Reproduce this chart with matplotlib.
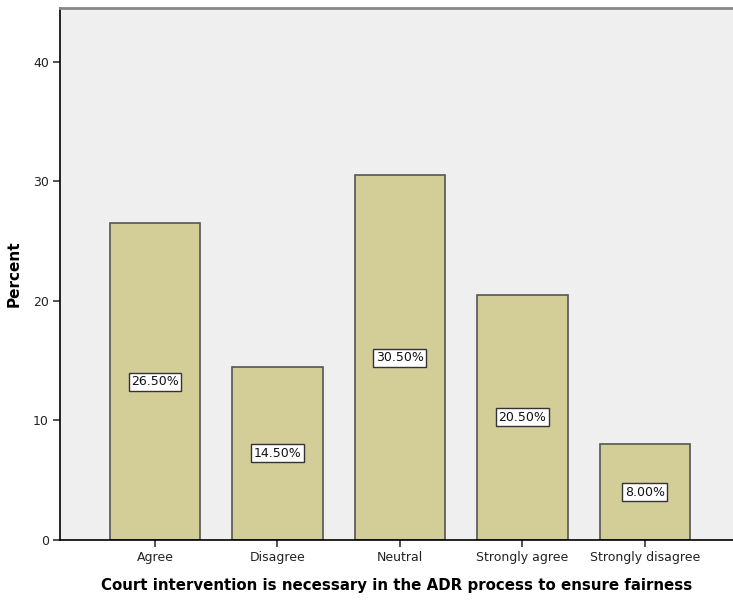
import matplotlib.pyplot as plt

categories = ['Agree', 'Disagree', 'Neutral', 'Strongly agree', 'Strongly disagree']
percents = [26.5, 14.5, 30.5, 20.5, 8.0]
y_ticks = [0, 10, 20, 30, 40]

fig = plt.figure(figsize=(7.33, 6.08), dpi=100)
ax = fig.add_axes([60 / 733, 68 / 608, 673 / 733, 532 / 608])
ax.set_facecolor('#EFEFEF')

x = list(range(len(categories)))
ax.bar(x, percents, width=0.74, color='#D3CE98', edgecolor='#555555', linewidth=1.2, zorder=2)

# value labels sit at half the bar height
for xi, val in zip(x, percents):
    ax.text(xi, val / 2, f'{val:.2f}%', ha='center', va='center', fontsize=9, color='#111111',
            bbox=dict(boxstyle='square,pad=0.2', facecolor='white', edgecolor='#333333', linewidth=1),
            zorder=3)

ax.set_xlim(-0.776, 4.72)
ax.set_ylim(0, 44.5)
ax.set_xticks(x)
ax.set_xticklabels(categories, fontsize=9, color='#222222')
ax.set_yticks(y_ticks)
ax.set_yticklabels([str(t) for t in y_ticks], fontsize=9, color='#222222')
ax.tick_params(axis='both', length=5, width=1.2, color='#333333', pad=3)

ax.spines['right'].set_visible(False)
ax.spines['top'].set_color('#888888')
ax.spines['top'].set_linewidth(2)
ax.spines['left'].set_linewidth(1.2)
ax.spines['bottom'].set_linewidth(1.2)

ax.set_ylabel('Percent', fontsize=11, fontweight='bold', labelpad=8)
ax.set_xlabel('Court intervention is necessary in the ADR process to ensure fairness',
              fontsize=10.8, fontweight='bold', labelpad=10)

fig.savefig('out.png', dpi=100)
